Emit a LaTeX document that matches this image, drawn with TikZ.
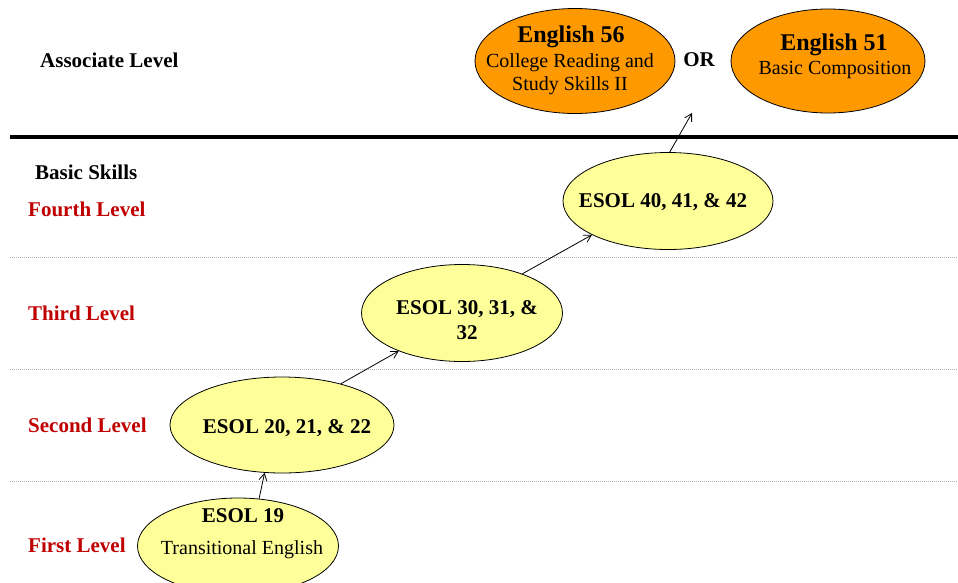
\documentclass[tikz,border=0pt]{standalone}
\usepackage{fontspec}
\setmainfont{Liberation Serif}
\usetikzlibrary{shapes.geometric,arrows.meta}
\definecolor{lvlred}{HTML}{C00000}
\definecolor{orangefill}{HTML}{FF9900}
\definecolor{yellowfill}{HTML}{FFFF99}
\definecolor{dotgray}{HTML}{B0B0B0}
\newcommand{\fs}[1]{\fontsize{#1}{#1}\selectfont}
\tikzset{
  orangeell/.style={ellipse, draw=black, line width=0.8pt, fill=orangefill, inner sep=0pt},
  yellowell/.style={ellipse, draw=black, line width=0.8pt, fill=yellowfill, inner sep=0pt},
  lvl/.style={anchor=west, font=\fs{21}\bfseries, text=lvlred, inner sep=0pt},
  hdr/.style={anchor=west, font=\fs{21}\bfseries, text=black, inner sep=0pt},
  sep/.style={dash pattern=on 1pt off 1pt, dotgray, line width=1pt},
  arr/.style={-{Straight Barb[length=7pt,width=8pt]}, line width=0.8pt},
  etitle/.style={font=\fs{21}\bfseries, inner sep=0pt},
  esub/.style={font=\fontsize{20}{23}\selectfont, inner sep=0pt, align=center},
}
\begin{document}
\begin{tikzpicture}[x=1pt,y=-1pt]
\useasboundingbox (0,0) rectangle (958,582);
% separators
\draw[line width=3.5pt] (10,137) -- (958,137);
\draw[sep] (10,257) -- (958,257);
\draw[sep] (10,369) -- (958,369);
\draw[sep] (10,481) -- (958,481);
% left labels
\node[hdr] (assoc) at (40,60) {Associate Level};
\node[hdr] (basic) at (35,172) {Basic Skills};
\node[lvl] (fourth) at (28,209) {Fourth Level};
\node[lvl] (third) at (28,313) {Third Level};
\node[lvl] (second) at (28,425) {Second Level};
\node[lvl] (first) at (28,545) {First Level};
% orange ellipses
\node[orangeell, minimum width=200pt, minimum height=105pt] (e56) at (575,61) {};
\node[font=\fs{24}\bfseries, inner sep=0pt] (e56t) at (571,37) {English 56};
\node[esub] (e56s) at (570,74) {College Reading and\\Study Skills II};
\node[font=\fs{21}\bfseries, inner sep=0pt] (or) at (699,60) {OR};
\node[orangeell, minimum width=194pt, minimum height=104pt] (e51) at (828,61) {};
\node[font=\fs{24}\bfseries, inner sep=0pt] (e51t) at (834,45) {English 51};
\node[esub] (e51s) at (835,70) {Basic Composition};
% yellow ellipses
\node[yellowell, minimum width=210pt, minimum height=97pt] (e40) at (668,201) {};
\node[etitle] (e40t) at (663,202) {ESOL 40, 41, \& 42};
\node[yellowell, minimum width=201pt, minimum height=97pt] (e30) at (462,313) {};
\node[etitle, align=center, font=\fontsize{21}{25}\selectfont\bfseries] (e30t) at (467,320) {ESOL 30, 31, \&\\32};
\node[yellowell, minimum width=224pt, minimum height=96pt] (e20) at (282,425) {};
\node[etitle] (e20t) at (287,428) {ESOL 20, 21, \& 22};
\node[yellowell, minimum width=201pt, minimum height=96pt] (e19) at (238,546) {};
\node[etitle] (e19t) at (243,516) {ESOL 19};
\node[esub] (e19s) at (242,550) {Transitional English};
% arrows
\coordinate (top) at (692,113);
\draw[arr] (e19.66) -- (e20.250);
\draw[arr] (e20.35) -- (e30.211);
\draw[arr] (e30.33) -- (e40.204);
\draw[arr] (e40.88) -- (top);
\end{tikzpicture}
\end{document}
